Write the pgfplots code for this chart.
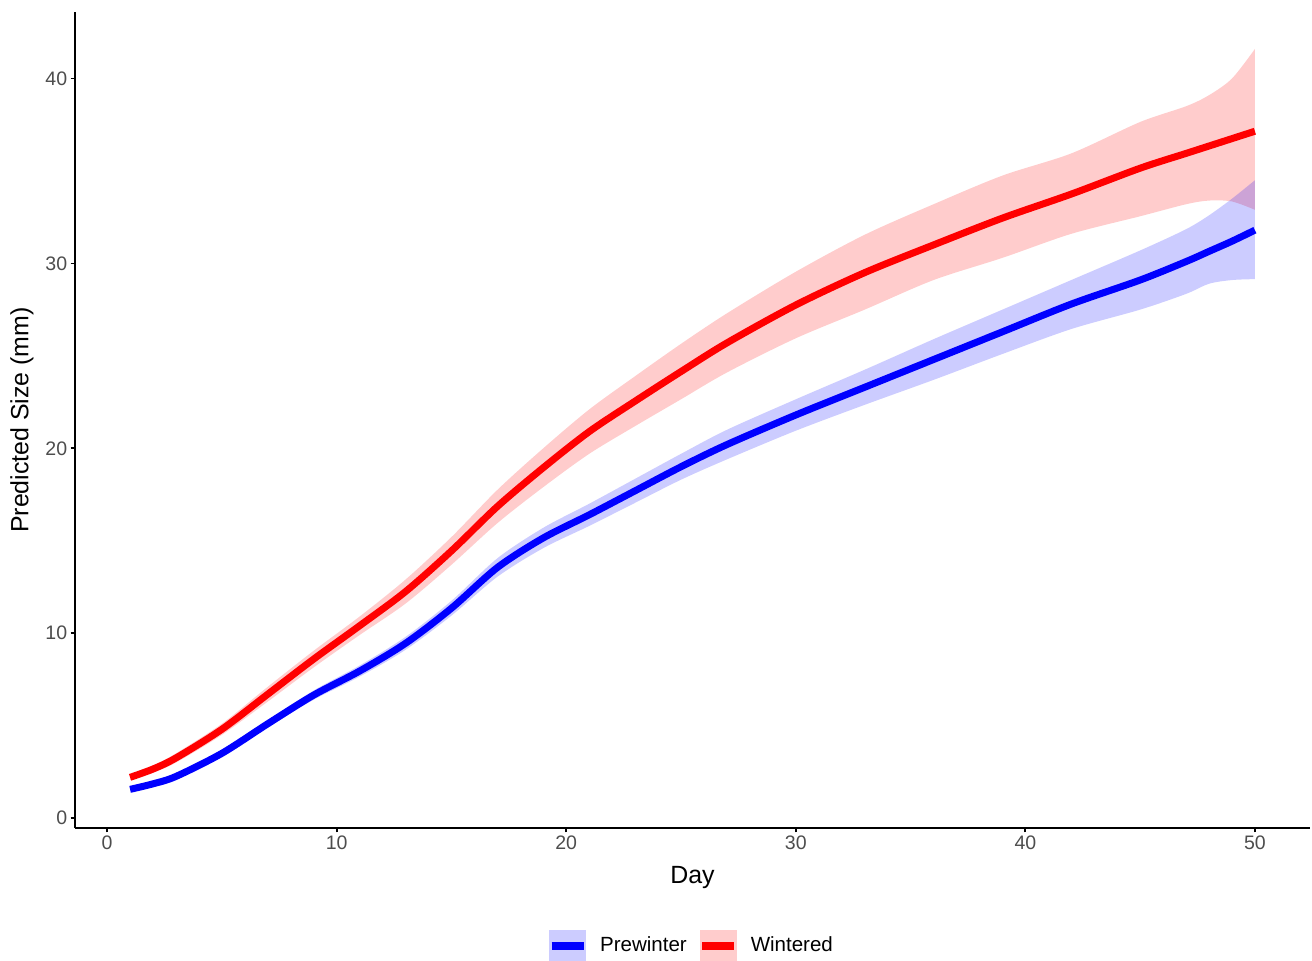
\documentclass[border=0pt]{standalone}
\usepackage{fontspec}
\setmainfont{Liberation Sans}
\usepackage{pgfplots}
\pgfplotsset{compat=1.18}
\usepackage{pgfplotstable}
\usepgfplotslibrary{fillbetween}
\definecolor{tickgray}{RGB}{77,77,77}
\definecolor{keyblue}{RGB}{204,204,255}
\definecolor{keyred}{RGB}{255,204,204}

\pgfplotstableread{
day fit lo hi
1 2.2 2.05 2.35
2 2.65 2.45 2.85
3 3.25 3.0 3.5
5 4.8 4.5 5.1
7 6.7 6.3 7.1
9 8.6 8.15 9.05
11 10.4 9.9 10.9
13 12.25 11.6 12.9
15 14.45 13.7 15.2
17 16.85 15.95 17.75
19 18.95 17.9 20.0
21 20.9 19.7 22.1
23 22.55 21.2 23.9
25 24.15 22.65 25.65
27 25.7 24.1 27.3
30 27.75 25.95 29.55
33 29.5 27.5 31.55
36 31.0 29.1 33.2
39 32.45 30.3 34.75
42 33.75 31.6 35.95
45 35.15 32.55 37.65
47 35.95 33.2 38.5
48 36.35 33.4 39.1
49 36.75 33.35 40.0
50 37.15 32.9 41.6
}\wintered

\pgfplotstableread{
day fit lo hi
1 1.55 1.5 1.6
2 1.85 1.78 1.92
3 2.25 2.15 2.35
5 3.5 3.35 3.65
7 5.1 4.9 5.3
9 6.65 6.4 6.9
11 7.95 7.65 8.25
13 9.45 9.1 9.8
15 11.35 10.95 11.75
17 13.55 13.05 14.05
19 15.15 14.6 15.7
21 16.4 15.8 17.0
23 17.7 17.05 18.35
25 19.0 18.3 19.7
27 20.2 19.4 21.0
30 21.8 20.95 22.65
33 23.3 22.35 24.25
36 24.8 23.7 25.9
39 26.3 25.1 27.5
42 27.8 26.45 29.1
45 29.1 27.5 30.7
47 30.1 28.35 31.85
48 30.65 28.9 32.6
49 31.2 29.1 33.5
50 31.8 29.15 34.5
}\prewinter

\begin{document}
\begin{tikzpicture}
\begin{axis}[
  name=ax,
  scale only axis,
  width=617.5bp, height=408bp,
  xmin=-1.4, xmax=52.4,
  ymin=-0.54, ymax=43.6,
  axis lines=left,
  axis line style={-, line width=0.9bp, black},
  xtick={0,10,20,30,40,50},
  ytick={0,10,20,30,40},
  tick align=outside,
  major tick length=2.2bp,
  tick style={black, line width=0.9bp},
  /pgf/number format/assume math mode=true,
  ticklabel style={font=\fontsize{9.8}{11}\selectfont, text=tickgray},
  xticklabel style={inner sep=1.5bp},
  yticklabel style={inner sep=1.5bp},
  xlabel={Day},
  ylabel={Predicted Size (mm)},
  label style={font=\fontsize{12.5}{14}\selectfont},
  xlabel style={at={(axis description cs:0.5,-0.0605)}, anchor=center, inner sep=0pt},
  ylabel style={at={(axis description cs:-0.0429,0.5)}, anchor=center, inner sep=0pt},
  legend columns=2,
  legend style={at={(axis description cs:0.5,-0.1446)}, anchor=center, draw=none,
    font=\fontsize{10.3}{12}\selectfont, inner sep=0pt,
    /tikz/every odd column/.append style={column sep=4.5bp},
    /tikz/every even column/.append style={column sep=4bp}},
  legend cell align=left,
  clip=false,
]
\addlegendimage{legend image code/.code={
  \fill[keyblue] (0bp,-8bp) rectangle (18bp,8bp);
  \draw[blue, line width=3.5bp] (1bp,0bp) -- (17bp,0bp);}}
\addlegendentry{Prewinter}
\addlegendimage{legend image code/.code={
  \fill[keyred] (0bp,-8bp) rectangle (18bp,8bp);
  \draw[red, line width=3.5bp] (1bp,0bp) -- (17bp,0bp);}}
\addlegendentry{Wintered}

\addplot[name path=wh, draw=none, smooth, forget plot] table[x=day, y=hi] {\wintered};
\addplot[name path=wl, draw=none, smooth, forget plot] table[x=day, y=lo] {\wintered};
\addplot[red, fill opacity=0.2, forget plot] fill between[of=wh and wl];

\addplot[name path=ph, draw=none, smooth, forget plot] table[x=day, y=hi] {\prewinter};
\addplot[name path=pl, draw=none, smooth, forget plot] table[x=day, y=lo] {\prewinter};
\addplot[blue, fill opacity=0.2, forget plot] fill between[of=ph and pl];

\addplot[blue, line width=3.5bp, smooth, forget plot] table[x=day, y=fit] {\prewinter};
\addplot[red, line width=3.5bp, smooth, forget plot] table[x=day, y=fit] {\wintered};
\end{axis}
\pgfresetboundingbox
\path (ax.south west) ++(-37.5bp,-66.5bp) coordinate (bl);
\path (ax.north east) ++(1bp,6bp) coordinate (tr);
\path (bl) rectangle (tr);
\end{tikzpicture}
\end{document}
